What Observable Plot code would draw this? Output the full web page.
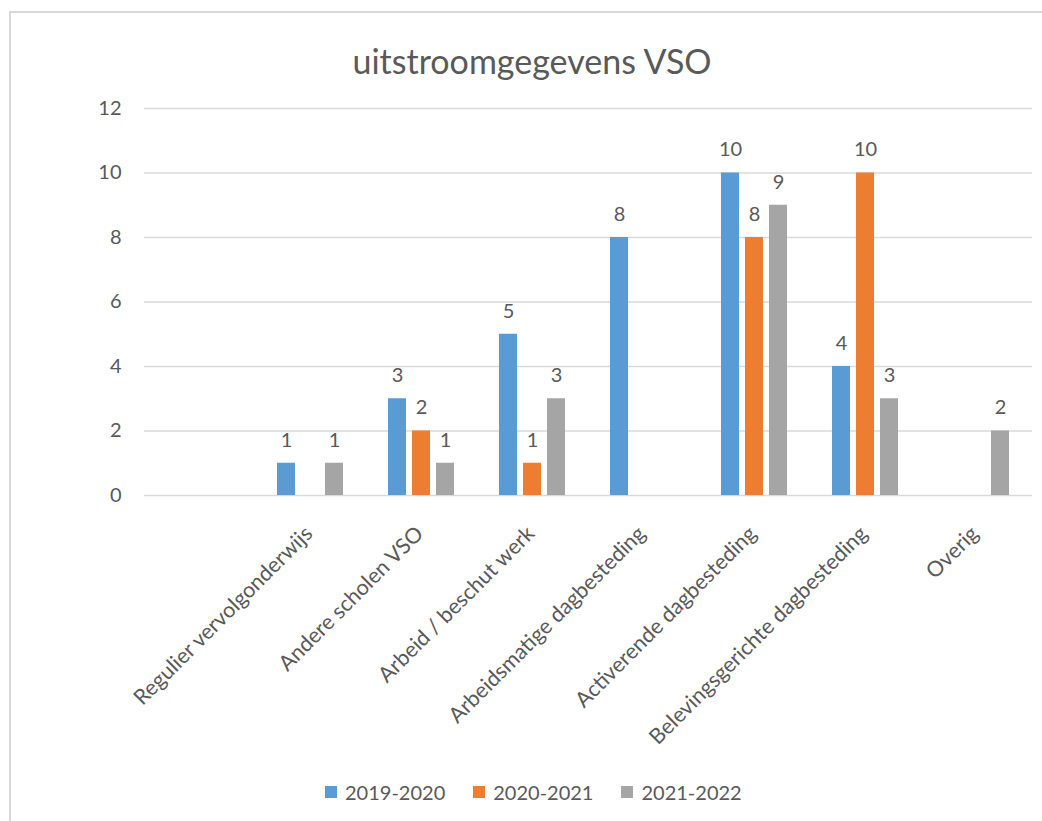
<!DOCTYPE html>
<html>
<head>
<meta charset="utf-8">
<script src="https://cdn.jsdelivr.net/npm/d3@7"></script>
<script src="https://cdn.jsdelivr.net/npm/@observablehq/plot@0.6"></script>
<style>
  html, body { margin: 0; padding: 0; background: #ffffff; }
  body { width: 1042px; height: 821px; overflow: hidden; position: relative; font-family: Lato, "Open Sans", sans-serif; color: #595959; }
  #frame { position: absolute; left: 9px; top: 11px; width: 1040px; height: 820px; border-top: 2px solid #d9d9d9; border-left: 2px solid #d9d9d9; box-sizing: border-box; pointer-events: none; }
  #title { height: 90px; box-sizing: border-box; padding-top: 42px; text-align: center; font-size: 34px; line-height: 38px; padding-left: 22px; }
  #chart svg { display: block; }
  #legend { display: flex; align-items: center; margin-left: 325px; height: 34px; font-size: 20px; }
  .item { display: flex; align-items: center; margin-right: 28px; }
  .sw { width: 12px; height: 12px; margin-right: 8px; }
</style>
</head>
<body>
<div id="frame"></div>
<div id="title">uitstroomgegevens VSO</div>
<div id="chart"></div>
<div id="legend"></div>
<script>
const categories = ["", "Regulier vervolgonderwijs", "Andere scholen VSO", "Arbeid / beschut werk", "Arbeidsmatige dagbesteding", "Activerende dagbesteding", "Belevingsgerichte dagbesteding", "Overig"];
const series = ["2019-2020", "2020-2021", "2021-2022"];
const values2019_2020 = [null, 1, 3, 5, 8, 10, 4, null];
const values2020_2021 = [null, null, 2, 1, null, 8, 10, null];
const values2021_2022 = [null, 1, 1, 3, null, 9, 3, 2];
const colors = ["#5B9BD5", "#ED7D31", "#A5A5A5"];
const yTicks = [0, 2, 4, 6, 8, 10, 12];

const valueLists = [values2019_2020, values2020_2021, values2021_2022];
const rows = [];
categories.forEach((c, i) => {
  series.forEach((s, j) => {
    rows.push({category: c, series: s, value: valueLists[j][i]});
  });
});

// label offset in screen space, converted into the rotated text frame
const offX = 23, offY = 26, k = Math.SQRT1_2;

const plot = Plot.plot({
  width: 1042,
  height: 685,
  marginLeft: 142,
  marginRight: 9,
  marginTop: 18,
  marginBottom: 280,
  style: {fontFamily: "Lato, 'Open Sans', sans-serif", fontSize: "20px", color: "#595959", background: "transparent", overflow: "visible"},
  fx: {domain: categories, padding: 0, axis: null, label: null},
  x: {domain: series, paddingInner: 0.24, paddingOuter: 0.8475, axis: null, label: null},
  y: {domain: [0, 12], ticks: yTicks, tickSize: 0, tickPadding: 23, label: null},
  color: {domain: series, range: colors},
  marks: [
    Plot.ruleY(yTicks, {stroke: "#d9d9d9", strokeWidth: 1.5}),
    Plot.barY(rows, {fx: "category", x: "series", y: "value", fill: "series"}),
    Plot.text(rows, {fx: "category", x: "series", y: "value", text: d => d.value == null ? null : String(d.value), dy: -23, fill: "#595959", fontSize: 20}),
    Plot.text(categories, {fx: d => d, text: d => d, frameAnchor: "bottom", rotate: -45, textAnchor: "end", lineAnchor: "middle", dx: k * (offX - offY), dy: k * (offX + offY), fill: "#595959", fontSize: 21.5})
  ]
});
document.getElementById("chart").appendChild(plot);

const legend = document.getElementById("legend");
series.forEach((s, i) => {
  const item = document.createElement("div");
  item.className = "item";
  const sw = document.createElement("div");
  sw.className = "sw";
  sw.style.background = colors[i];
  const t = document.createElement("span");
  t.textContent = s;
  item.appendChild(sw);
  item.appendChild(t);
  legend.appendChild(item);
});
</script>
</body>
</html>
